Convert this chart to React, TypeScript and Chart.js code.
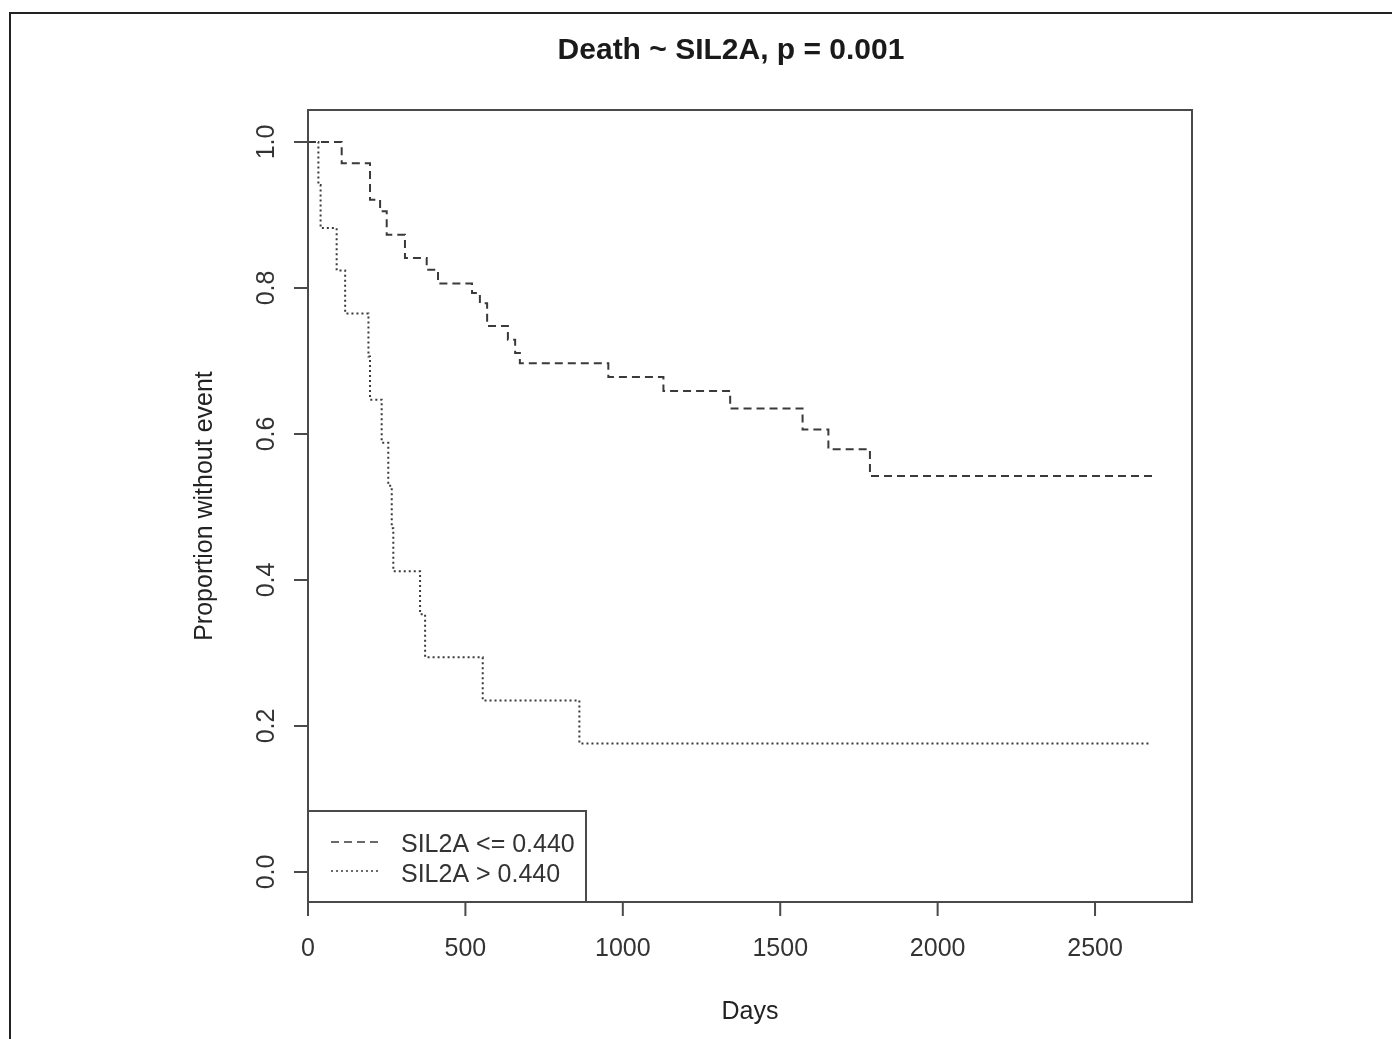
import React, { useEffect, useRef } from "react";
import { Chart, registerables } from "chart.js";

Chart.register(...registerables);

const TITLE = "Death ~ SIL2A, p = 0.001";
const X_TITLE = "Days";
const Y_TITLE = "Proportion without event";

const xTicks = [0, 500, 1000, 1500, 2000, 2500];
const yTicks = [0, 0.2, 0.4, 0.6, 0.8, 1.0];
const yTickLabels = ["0.0", "0.2", "0.4", "0.6", "0.8", "1.0"];

const lowLabel = "SIL2A <= 0.440";
const lowTimes = [0, 107, 197, 229, 250, 308, 377, 413, 521, 546, 569, 635, 658, 673, 954, 1129, 1341, 1571, 1653, 1785, 2691];
const lowSurv = [1.0, 0.971, 0.921, 0.905, 0.873, 0.841, 0.825, 0.806, 0.793, 0.779, 0.748, 0.729, 0.711, 0.697, 0.678, 0.659, 0.635, 0.606, 0.579, 0.5425, 0.5425];

const highLabel = "SIL2A > 0.440";
const highTimes = [0, 33, 40, 91, 118, 192, 197, 234, 255, 266, 271, 356, 372, 555, 862, 2675];
const highSurv = [1.0, 0.941, 0.882, 0.824, 0.765, 0.706, 0.647, 0.588, 0.529, 0.471, 0.412, 0.353, 0.294, 0.235, 0.176, 0.176];

const X_MIN = 0;
const X_MAX = 2808;
const Y_MIN = -0.0411;
const Y_MAX = 1.0438;

const LINE_COLOR = "#3a3a3a";
const FONT = "'Liberation Sans', Arial, Helvetica, sans-serif";

const rPlugin = {
  id: "rstyle",
  beforeDraw(chart: any) {
    const ctx = chart.ctx;
    ctx.save();
    ctx.fillStyle = "#ffffff";
    ctx.fillRect(0, 0, chart.width, chart.height);
    ctx.restore();
  },
  afterDraw(chart: any) {
    const ctx = chart.ctx;
    const a = chart.chartArea;
    const xs = chart.scales.x;
    const ys = chart.scales.y;
    ctx.save();

    // outer frame
    ctx.strokeStyle = "#222";
    ctx.lineWidth = 2;
    ctx.beginPath();
    ctx.moveTo(10, chart.height);
    ctx.lineTo(10, 13);
    ctx.lineTo(chart.width, 13);
    ctx.stroke();

    // plot box
    ctx.strokeStyle = "#4a4a4a";
    ctx.lineWidth = 2;
    ctx.strokeRect(a.left, a.top, a.right - a.left, a.bottom - a.top);

    // x ticks
    ctx.fillStyle = "#333";
    ctx.font = `25px ${FONT}`;
    ctx.textAlign = "center";
    ctx.textBaseline = "middle";
    ctx.beginPath();
    xTicks.forEach((t) => {
      const px = xs.getPixelForValue(t);
      ctx.moveTo(px, a.bottom);
      ctx.lineTo(px, a.bottom + 14);
    });
    ctx.stroke();
    xTicks.forEach((t) => {
      const px = xs.getPixelForValue(t);
      ctx.fillText(String(t), px, 949);
    });

    // y ticks
    ctx.beginPath();
    yTicks.forEach((t) => {
      const py = ys.getPixelForValue(t);
      ctx.moveTo(a.left, py);
      ctx.lineTo(a.left - 14, py);
    });
    ctx.stroke();
    yTicks.forEach((t, i) => {
      const py = ys.getPixelForValue(t);
      ctx.save();
      ctx.translate(267, py);
      ctx.rotate(-Math.PI / 2);
      ctx.fillText(yTickLabels[i], 0, 0);
      ctx.restore();
    });

    // axis titles
    ctx.fillStyle = "#222";
    ctx.fillText(X_TITLE, (a.left + a.right) / 2, 1012);
    ctx.save();
    ctx.translate(205, (a.top + a.bottom) / 2);
    ctx.rotate(-Math.PI / 2);
    ctx.fillText(Y_TITLE, 0, 0);
    ctx.restore();

    // title
    ctx.font = `bold 30px ${FONT}`;
    ctx.fillStyle = "#1a1a1a";
    ctx.fillText(TITLE, 731, 51);

    // legend
    const lx = a.left;
    const ly = 811;
    const lw = 586 - a.left;
    const lh = a.bottom - ly;
    ctx.fillStyle = "#ffffff";
    ctx.fillRect(lx, ly, lw, lh);
    ctx.strokeStyle = "#4a4a4a";
    ctx.lineWidth = 2;
    ctx.strokeRect(lx, ly, lw, lh);

    ctx.strokeStyle = LINE_COLOR;
    ctx.lineWidth = 1.6;
    ctx.setLineDash([8, 5]);
    ctx.beginPath();
    ctx.moveTo(331, 842);
    ctx.lineTo(379, 842);
    ctx.stroke();
    ctx.setLineDash([2, 3]);
    ctx.beginPath();
    ctx.moveTo(331, 871);
    ctx.lineTo(379, 871);
    ctx.stroke();
    ctx.setLineDash([]);

    ctx.font = `25px ${FONT}`;
    ctx.fillStyle = "#333";
    ctx.textAlign = "left";
    ctx.fillText(lowLabel, 401, 845);
    ctx.fillText(highLabel, 401, 875);

    ctx.restore();
  },
};

export default function App() {
  const ref = useRef<HTMLCanvasElement | null>(null);
  useEffect(() => {
    if (!ref.current) return;
    const chart = new Chart(ref.current, {
      type: "line",
      data: {
        datasets: [
          {
            label: lowLabel,
            data: lowTimes.map((t, i) => ({ x: t, y: lowSurv[i] })),
            stepped: "before",
            borderColor: LINE_COLOR,
            borderWidth: 2,
            borderDash: [8, 5],
            pointRadius: 0,
            fill: false,
          },
          {
            label: highLabel,
            data: highTimes.map((t, i) => ({ x: t, y: highSurv[i] })),
            stepped: "before",
            borderColor: LINE_COLOR,
            borderWidth: 2,
            borderDash: [2, 3],
            pointRadius: 0,
            fill: false,
          },
        ],
      },
      options: {
        responsive: false,
        animation: false,
        events: [],
        layout: { padding: { left: 308, top: 110, right: 200, bottom: 137 } },
        plugins: {
          legend: { display: false },
          title: { display: false },
          tooltip: { enabled: false },
        },
        scales: {
          x: { type: "linear", min: X_MIN, max: X_MAX, display: false },
          y: { type: "linear", min: Y_MIN, max: Y_MAX, display: false },
        },
      },
      plugins: [rPlugin],
    });
    return () => chart.destroy();
  }, []);
  return (
    <div style={{ position: "absolute", left: 0, top: 0, width: 1392, height: 1039 }}>
      <canvas ref={ref} width={1392} height={1039} style={{ display: "block" }} />
    </div>
  );
}
